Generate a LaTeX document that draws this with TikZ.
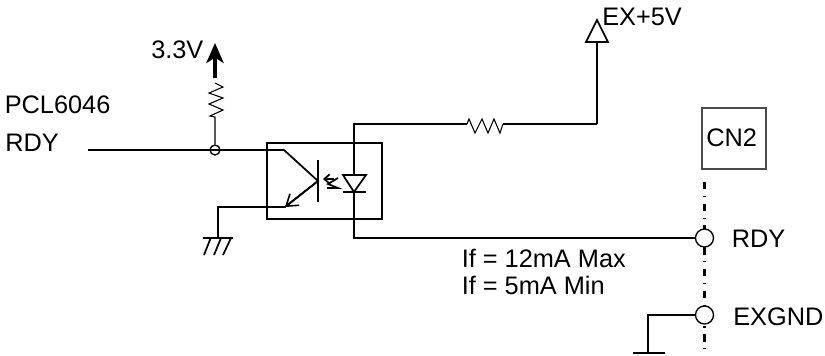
\documentclass[tikz,border=0pt]{standalone}
\usepackage{fontspec}
\setmainfont{Liberation Sans}
\usetikzlibrary{arrows.meta}
\begin{document}
\begin{tikzpicture}[x=0.75pt,y=-0.75pt]
	\tikzset{w/.style={line width=1.3pt},
	t/.style={inner sep=0pt,font=\fontsize{19}{23}\selectfont,anchor=base west},
	j/.style={draw,circle,fill=white,line width=1pt,inner sep=0pt,minimum size=13.5pt}}
	\useasboundingbox(0,0)rectangle(825,355);
	% cable shield
	\path(704.5,182)coordinate(s1)(704.5,355)coordinate(s2);
	\draw[line width=2pt,dash pattern=on 5.6pt off 4.85pt on 1pt off 4.85pt](s1)--(s2);
	% coordinates of the wires
	\path(88,150)coordinate(i)(284,150)coordinate(b)(318,181)coordinate(c)(285,207)coordinate(e)
	(218,207)coordinate(g1)(218,238)coordinate(g2)(203,238)coordinate(g3)(233,238)coordinate(g4)
	(354,124)coordinate(a1)(467,124)coordinate(r1)(503,124)coordinate(r2)(597,124)coordinate(a2)
	(597,42)coordinate(a3)(354,238)coordinate(k1)
	(648,315)coordinate(h1)(648,353)coordinate(h2)(633,353)coordinate(h3)(665,353)coordinate(h4)
	(215,117)coordinate(p1)(215,83)coordinate(p2)(215,78)coordinate(p3)(215,43)coordinate(p4);
	\node[j,minimum size=7.5pt,fill=none](J)at(215,150){};
	\node[j](RDYc)at(704.5,238){};
	\node[j](GNDc)at(704.5,315){};
	% optocoupler
	\node[draw,line width=1.3pt,minimum width=86.25pt,minimum height=57pt,inner sep=0pt](OPT)at(324.5,181){};
	\node[draw=black!70,line width=0.8pt,minimum width=48pt,minimum height=45.75pt,inner sep=0pt](CN)at(734,138.5){};
	\draw[w](i)--(b)--(c)--(e)--(g1)--(g2);
	\draw[w](g3)--(g4);
	\draw[w,-{Straight Barb[length=8pt,width=11pt,line width=1.2pt]}](c)--(e);
	\draw[w](318,160)--(318,202);
	\foreach \x/\y in {210.7/204,221/214,231/223}
	\draw[w](\x,238)--(\y,255);
	% LED
	\draw[w](a2)--(r2);
	\draw[line width=0.8pt](r2)--(500,133)--(494,119)--(488,133)--(482,119)--(475,133)--(469,119)--(r1);
	\draw[w](r1)--(a1)--(k1)--(RDYc.west);
	\draw[w,fill=white](343,175)--(366,175)--(354,192)--cycle;
	\draw[w](343,192)--(366,192);
	\draw[line width=1.3pt,-{Straight Barb[length=4pt,width=7pt]}](334,179)--(323,179);
	\draw[line width=1.3pt](338,178)--(328,184)--(338,188)--(327,188);
	% supply
	\draw[w](a2)--(a3);
	\draw[w,fill=white](597,20)--(586,42)--(608,42)--cycle;
	\draw[line width=0.8pt](J.north)--(p1)--(210,116)--(223,110)--(209,104)--(223,98)--(209,93)--(223,87)--(p2);
	\draw[line width=2.4pt,-{Stealth[length=15pt,width=13pt,inset=4pt]}](p3)--(p4);
	% ground
	\draw[w](GNDc.west)--(h1)--(h2);
	\draw[w](h3)--(h4);
	% texts
	\node[t](T1)at(151,58){3.3V};
	\node[t](T2)at(602,25){EX+5V};
	\node[t](T3)at(4.5,113){PCL6046};
	\node[t](T4)at(5,151.5){RDY};
	\node[t](T5)at(731.5,247.5){RDY};
	\node[t](T6)at(733,325){EXGND};
	\node[t](T7)at(461.5,267){If = 12mA Max};
	\node[t](T8)at(461.5,294){If = 5mA Min};
	\node[t](T9)at(706,146.5){CN2};
\end{tikzpicture}
\end{document}
